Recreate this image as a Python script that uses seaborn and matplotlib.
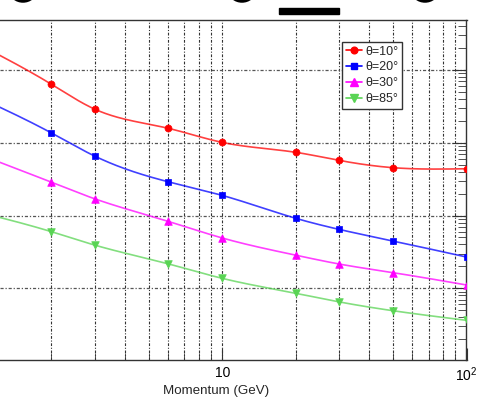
import numpy as np
import matplotlib
matplotlib.use("Agg")
import matplotlib.pyplot as plt
import seaborn as sns
import pandas as pd
from matplotlib.lines import Line2D
from matplotlib.patches import Rectangle, Ellipse
from matplotlib.ticker import LogLocator, NullFormatter, FixedLocator, FixedFormatter

# ---- data ----
momentum = [1, 2, 3, 6, 10, 20, 30, 50, 100]
theta10 = [2270, 634, 290, 158, 101, 73.8, 57.3, 45.4, 43.9]
theta20 = [424, 136, 65.7, 29.1, 18.9, 9.15, 6.46, 4.46, 2.69]
theta30 = [70, 28.6, 17.0, 8.32, 4.91, 2.85, 2.16, 1.64, 1.11]
theta85 = [11.2, 5.99, 3.93, 2.17, 1.37, 0.854, 0.652, 0.492, 0.363]
labels = ["θ=10°", "θ=20°", "θ=30°", "θ=85°"]
xtick_vals = [10, 100]
xtick_labels = ["10", "10$^{2}$"]
xlabel = "Momentum (GeV)"

colors = ["#ff0000", "#0000ff", "#ff00ff", "#59d454"]
markers = ["o", "s", "^", "v"]
msizes = [4.8, 4.8, 5.2, 5.2]

sns.set_style("ticks")
plt.rcParams["font.family"] = ["Liberation Sans", "DejaVu Sans"]
plt.rcParams["mathtext.fontset"] = "custom"
plt.rcParams["mathtext.rm"] = "Liberation Sans"
plt.rcParams["mathtext.it"] = "Liberation Sans"


def smooth(xs, ys, n=400):
    """Natural cubic spline of log(y) vs log(x), used only to draw the curve."""
    x = np.log10(np.asarray(xs, float))
    y = np.log10(np.asarray(ys, float))
    k = len(x)
    h = np.diff(x)
    A = np.zeros((k, k))
    r = np.zeros(k)
    A[0, 0] = A[-1, -1] = 1
    for i in range(1, k - 1):
        A[i, i - 1] = h[i - 1]
        A[i, i] = 2 * (h[i - 1] + h[i])
        A[i, i + 1] = h[i]
        r[i] = 6 * ((y[i + 1] - y[i]) / h[i] - (y[i] - y[i - 1]) / h[i - 1])
    M = np.linalg.solve(A, r)
    xx = np.linspace(x[0], x[-1], n)
    idx = np.clip(np.searchsorted(x, xx) - 1, 0, k - 2)
    x0, x1 = x[idx], x[idx + 1]
    hh = x1 - x0
    a = (x1 - xx) / hh
    b = (xx - x0) / hh
    yy = (a * y[idx] + b * y[idx + 1]
          + ((a ** 3 - a) * M[idx] + (b ** 3 - b) * M[idx + 1]) * hh ** 2 / 6)
    return 10 ** xx, 10 ** yy


fig = plt.figure(figsize=(4.81, 4.03), dpi=100)
W, H = 481, 403
ax = fig.add_axes([0, 43 / H, 466.5 / W, 340 / H])

series = [theta10, theta20, theta30, theta85]
handles = []
for vals, lab, c, m, ms in zip(series, labels, colors, markers, msizes):
    sx, sy = smooth(momentum, vals)
    sns.lineplot(x=sx, y=sy, ax=ax, color=c, lw=1.2, alpha=0.75, sort=False,
                 estimator=None, legend=False)
    df = pd.DataFrame({"x": momentum, "y": vals})
    sns.scatterplot(data=df, x="x", y="y", ax=ax, color=c, marker=m, s=ms ** 2 * 1.1,
                    edgecolor=c, linewidth=0.5, legend=False, zorder=3)
    handles.append(Line2D([0], [0], color=c, lw=1.2, marker=m, markersize=ms,
                          markeredgecolor=c, label=lab))

ax.set_xscale("log")
ax.set_yscale("log")
ax.set_xlim(1.231, 100)
ax.set_ylim(0.1035, 4850)

ax.xaxis.set_major_locator(FixedLocator(xtick_vals))
ax.xaxis.set_major_formatter(FixedFormatter(xtick_labels))
ax.xaxis.set_minor_locator(LogLocator(base=10, subs=np.arange(2, 10), numticks=20))
ax.xaxis.set_minor_formatter(NullFormatter())
ax.yaxis.set_major_locator(LogLocator(base=10, numticks=20))
ax.yaxis.set_minor_locator(LogLocator(base=10, subs=np.arange(2, 10), numticks=20))
ax.yaxis.set_minor_formatter(NullFormatter())

ax.grid(True, which="both", axis="x", color="#333333", lw=0.8,
        linestyle=(0, (2.5, 1.5, 1, 1.5)))
ax.grid(True, which="major", axis="y", color="#555555", lw=0.9,
        linestyle=(0, (2.5, 1.5, 1, 1.5)))

ax.spines["left"].set_visible(False)
for s in ["top", "right", "bottom"]:
    ax.spines[s].set_color("#333333")
    ax.spines[s].set_linewidth(1.0)

ax.tick_params(axis="x", which="both", direction="in", top=False, bottom=True,
               labelsize=10, pad=4, colors="#333333", labelcolor="black")
ax.tick_params(axis="x", which="major", length=9)
ax.tick_params(axis="x", which="minor", length=5)
ax.tick_params(axis="y", which="both", direction="in", left=False, right=True,
               labelleft=False, labelright=False, colors="#333333")
ax.tick_params(axis="y", which="major", length=10)
ax.tick_params(axis="y", which="minor", length=6)

ax.set_xlabel(xlabel, fontsize=9.6)
ax.set_ylabel("")
ax.xaxis.set_label_coords(216 / 466.5, -25 / 340)

leg = ax.legend(handles=handles, loc="upper left",
                bbox_to_anchor=(342 / W, 1 - 42 / H), bbox_transform=fig.transFigure,
                fontsize=9, frameon=True, fancybox=False, shadow=False,
                borderpad=0.3, handlelength=1.3, handletextpad=0.25,
                labelspacing=0.3, borderaxespad=0)
leg.get_frame().set_edgecolor("#333333")
leg.get_frame().set_linewidth(1.0)
leg.get_frame().set_facecolor("white")
leg.get_frame().set_alpha(1)

# cropped fragments of text above the chart
fig.patches.append(Rectangle((279 / W, 1 - 14 / H), 60 / W, 6 / H,
                             transform=fig.transFigure, color="black"))
for cx in [23, 242, 425]:
    fig.patches.append(Ellipse((cx / W, 1 + 9 / H), 24 / W, 20 / H,
                               transform=fig.transFigure, fill=False,
                               edgecolor="black", lw=2.5))

fig.savefig("out.png", dpi=100)
